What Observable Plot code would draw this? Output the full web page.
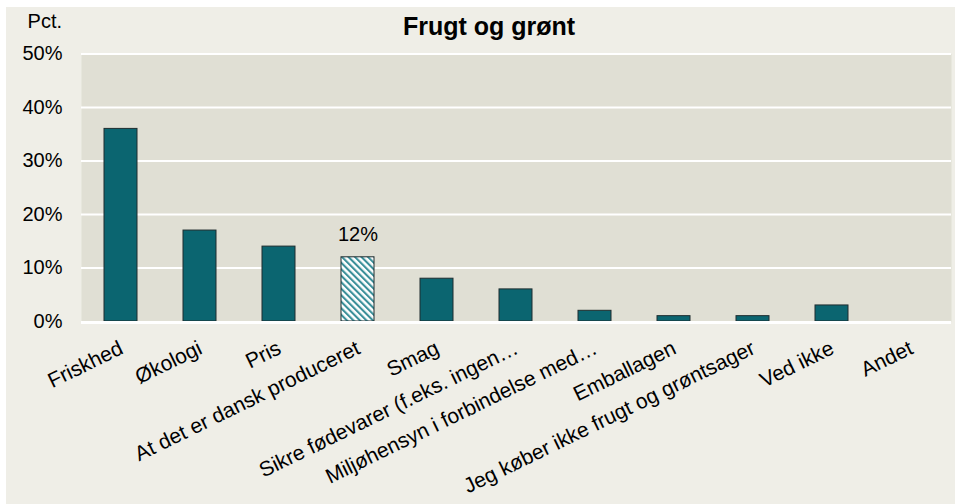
<!DOCTYPE html>
<html>
<head>
<meta charset="utf-8">
<script src="https://cdn.jsdelivr.net/npm/d3@7"></script>
<script src="https://cdn.jsdelivr.net/npm/@observablehq/plot@0.6"></script>
<style>
  html, body { margin: 0; padding: 0; background: #ffffff; width: 955px; height: 504px; overflow: hidden; }
  #frame { position: absolute; left: 6px; top: 7px; width: 949px; height: 497px; background: #efeee7; }
  #chart { position: absolute; left: 6px; top: 7px; }
  .lbl { position: absolute; font-family: "Liberation Sans", Arial, sans-serif; color: #000; line-height: 1; white-space: nowrap; }
  #title { left: 339px; width: 300px; top: 14px; text-align: center; font-weight: bold; font-size: 25px; }
  #pct { left: 12px; width: 50px; top: 11px; text-align: right; font-size: 20px; }
</style>
</head>
<body>
<div id="frame"></div>
<div id="chart"></div>
<div class="lbl" id="title">Frugt og grønt</div>
<div class="lbl" id="pct">Pct.</div>
<script>
const categories = [
  "Friskhed",
  "Økologi",
  "Pris",
  "At det er dansk produceret",
  "Smag",
  "Sikre fødevarer (f.eks. ingen…",
  "Miljøhensyn i forbindelse med…",
  "Emballagen",
  "Jeg køber ikke frugt og grøntsager",
  "Ved ikke",
  "Andet"
];
const values = [36, 17, 14, 12, 8, 6, 2, 1, 1, 3, 0];
const highlighted = ["At det er dansk produceret"];
const yTicks = [0, 10, 20, 30, 40, 50];

const data = categories.map((c, i) => ({cat: c, value: values[i]}));

const chart = Plot.plot({
  width: 949,
  height: 497,
  marginLeft: 75,
  marginRight: 4,
  marginTop: 46.5,
  marginBottom: 183,
  style: {background: "transparent", fontFamily: "'Liberation Sans', Arial, sans-serif", fontSize: "20px", color: "#000"},
  x: {domain: categories, paddingInner: 0.58, paddingOuter: 0.29, axis: null},
  y: {domain: [0, 50], ticks: yTicks, tickFormat: d => d + "%", tickSize: 0, tickPadding: 19, label: null},
  marks: [
    Plot.frame({fill: "#e0dfd4", stroke: "none"}),
    Plot.ruleY(yTicks.filter(d => d > 0), {stroke: "#ffffff", strokeWidth: 2}),
    Plot.barY(data, {filter: d => !highlighted.includes(d.cat), x: "cat", y: "value", fill: "#0b6570", stroke: "#1f2d2f", strokeWidth: 1}),
    Plot.barY(data, {filter: d => highlighted.includes(d.cat), x: "cat", y: "value", fill: "url(#hatch)", stroke: "#1f2d2f", strokeWidth: 1}),
    Plot.ruleY([0], {stroke: "#ffffff", strokeWidth: 3, dy: 1}),
    Plot.text(data, {filter: d => highlighted.includes(d.cat), x: "cat", y: "value", text: d => d.value + "%", lineAnchor: "bottom", dy: -16, fontSize: 20}),
    Plot.text(categories, {x: d => d, y: () => 0, text: d => d, rotate: -26, textAnchor: "end", lineAnchor: "top", dx: -3, dy: 18, fontSize: 21})
  ]
});

const defs = d3.select(chart).insert("defs", ":first-child");
const pat = defs.append("pattern")
  .attr("id", "hatch")
  .attr("patternUnits", "userSpaceOnUse")
  .attr("width", 4.6)
  .attr("height", 4.6)
  .attr("patternTransform", "rotate(-45)");
pat.append("rect").attr("width", 4.6).attr("height", 4.6).attr("fill", "#ffffff");
pat.append("rect").attr("width", 2.1).attr("height", 4.6).attr("fill", "#3a8f99");

document.getElementById("chart").appendChild(chart);
</script>
</body>
</html>
